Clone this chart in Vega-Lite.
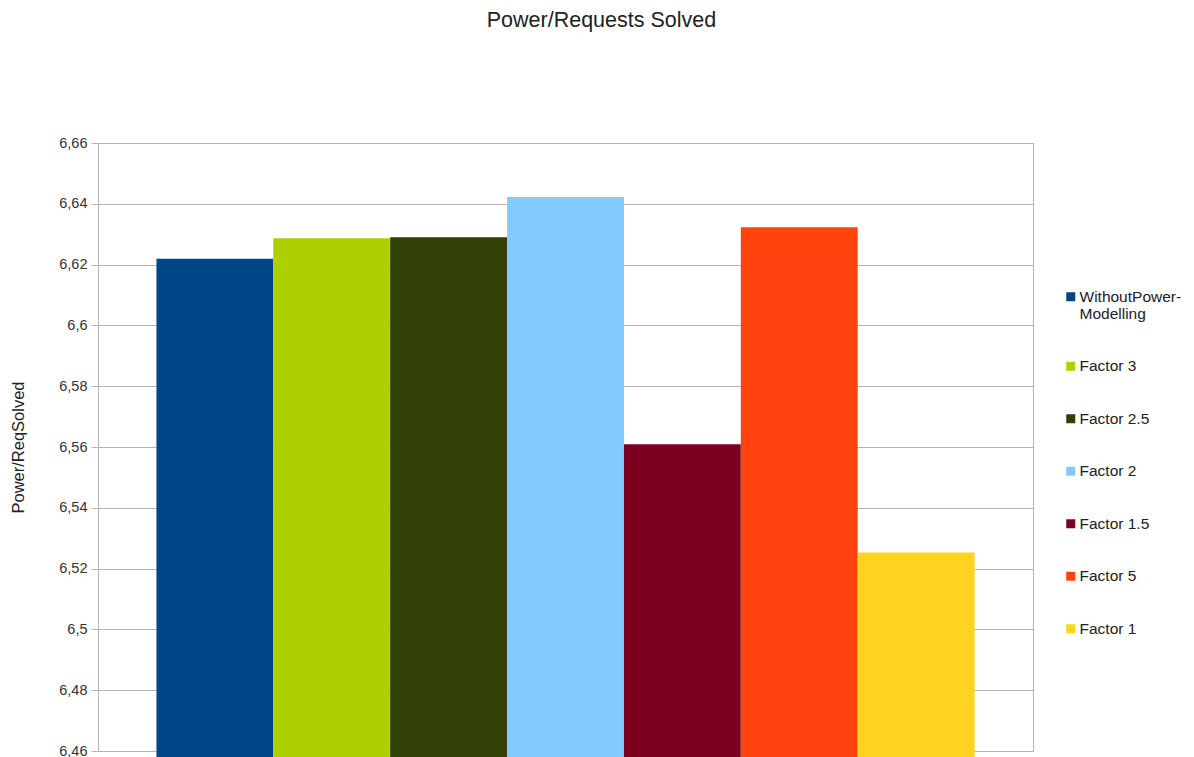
{
  "$schema": "https://vega.github.io/schema/vega-lite/v6.json",
  "width": 935,
  "height": 608,
  "autosize": {"type": "none"},
  "padding": {"left": 98, "top": 143, "right": 161, "bottom": 6},
  "background": "white",
  "title": {
    "text": "Power/Requests Solved",
    "font": "Liberation Sans",
    "fontSize": 21.5,
    "fontWeight": "normal",
    "color": "#222222",
    "anchor": "middle",
    "dx": 36,
    "offset": 104
  },
  "data": {
    "values": [
      {"series": "WithoutPower-Modelling", "value": 6.6219},
      {"series": "Factor 3", "value": 6.6287},
      {"series": "Factor 2.5", "value": 6.6290},
      {"series": "Factor 2", "value": 6.6422},
      {"series": "Factor 1.5", "value": 6.5609},
      {"series": "Factor 5", "value": 6.6323},
      {"series": "Factor 1", "value": 6.5253}
    ]
  },
  "config": {
    "view": {"stroke": "#b3b3b3", "strokeWidth": 1},
    "font": "Liberation Sans"
  },
  "mark": {"type": "bar"},
  "encoding": {
    "x": {
      "field": "series",
      "type": "nominal",
      "sort": null,
      "scale": {"paddingInner": 0, "paddingOuter": 0.5},
      "axis": null
    },
    "y": {
      "field": "value",
      "type": "quantitative",
      "scale": {"domain": [6.46, 6.66], "zero": false, "nice": false},
      "axis": {
        "title": "Power/ReqSolved",
        "titleFont": "Liberation Sans",
        "titleFontSize": 16.5,
        "titleFontWeight": "normal",
        "titleColor": "#222222",
        "titlePadding": 32,
        "values": [6.46, 6.48, 6.5, 6.52, 6.54, 6.56, 6.58, 6.6, 6.62, 6.64, 6.66],
        "labelExpr": "replace(format(datum.value, '.3~r'), '.', ',')",
        "labelFont": "Liberation Sans",
        "labelFontSize": 14.5,
        "labelColor": "#333333",
        "labelPadding": 4,
        "tickSize": 7,
        "tickColor": "#b3b3b3",
        "domainColor": "#b3b3b3",
        "gridColor": "#b3b3b3",
        "grid": true
      }
    },
    "color": {
      "field": "series",
      "type": "nominal",
      "sort": null,
      "scale": {
        "domain": ["WithoutPower-Modelling", "Factor 3", "Factor 2.5", "Factor 2", "Factor 1.5", "Factor 5", "Factor 1"],
        "range": ["#004586", "#aecf00", "#314004", "#83caff", "#7e0021", "#ff420e", "#ffd320"]
      },
      "legend": {
        "title": null,
        "orient": "none",
        "legendX": 965,
        "legendY": 146,
        "padding": 0,
        "symbolType": "square",
        "symbolSize": 81,
        "symbolStrokeWidth": 0,
        "labelFont": "Liberation Sans",
        "labelFontSize": 15.5,
        "labelColor": "#222222",
        "labelOffset": 1,
        "labelLimit": 200,
        "rowPadding": 35.5,
        "labelExpr": "datum.label == 'WithoutPower-Modelling' ? ['WithoutPower-', 'Modelling'] : datum.label"
      }
    }
  }
}
